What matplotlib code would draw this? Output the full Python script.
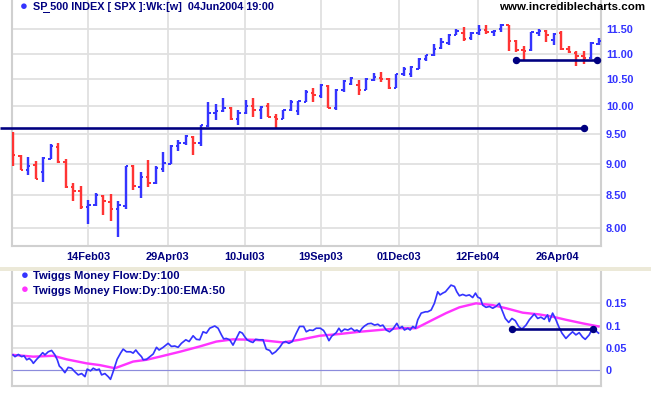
import matplotlib
matplotlib.use('Agg')
import matplotlib.pyplot as plt
import matplotlib.ticker as mticker
from matplotlib.lines import Line2D
from matplotlib.patches import Rectangle
import pandas as pd
import numpy as np

# ---------------- data ----------------
first_week = '2002-12-06'
n_weeks = 79

opens = [9.36, 9.13, 8.90, 8.98, 8.87, 9.08, 9.28, 9.02, 8.62, 8.57,
         8.31, 8.35, 8.49, 8.40, 8.29, 8.33, 8.96, 8.63, 8.79, 8.69,
         8.92, 9.00, 9.30, 9.35, 9.45, 9.34, 9.64, 9.87, 9.90, 9.97,
         9.76, 9.87, 9.99, 9.93, 9.99, 9.80, 9.76, 9.92, 9.91, 10.07,
         10.23, 10.19, 10.37, 9.97, 10.30, 10.40, 10.39, 10.30, 10.49, 10.52,
         10.50, 10.34, 10.59, 10.60, 10.69, 10.90, 10.97, 11.12, 11.21, 11.39,
         11.42, 11.32, 11.42, 11.49, 11.44, 11.50, 11.59, 11.25, 11.07, 11.07,
         11.42, 11.47, 11.27, 11.42, 11.09, 11.02, 10.96, 10.92, 11.20]
highs = [9.53, 9.14, 9.11, 9.04, 9.11, 9.33, 9.35, 9.07, 8.69, 8.64,
         8.42, 8.53, 8.50, 8.52, 8.41, 8.97, 8.98, 8.87, 9.06, 8.96,
         9.20, 9.32, 9.40, 9.49, 9.46, 9.66, 10.07, 10.04, 10.15, 9.98,
         9.93, 10.11, 10.15, 9.99, 10.06, 9.86, 9.93, 10.11, 10.09, 10.30,
         10.33, 10.41, 10.39, 10.31, 10.49, 10.54, 10.49, 10.52, 10.62, 10.64,
         10.52, 10.60, 10.74, 10.76, 10.91, 10.98, 11.20, 11.31, 11.40, 11.51,
         11.55, 11.44, 11.60, 11.58, 11.49, 11.62, 11.60, 11.27, 11.16, 11.44,
         11.51, 11.49, 11.42, 11.46, 11.15, 11.05, 11.06, 11.23, 11.31]
lows = [8.97, 8.89, 8.81, 8.75, 8.70, 9.08, 9.01, 8.61, 8.41, 8.28,
        8.06, 8.33, 8.19, 8.11, 7.88, 8.28, 8.58, 8.45, 8.63, 8.68,
        8.87, 9.00, 9.21, 9.31, 9.14, 9.29, 9.63, 9.74, 9.89, 9.75,
        9.66, 9.85, 9.80, 9.77, 9.80, 9.61, 9.76, 9.90, 9.84, 10.07,
        10.08, 10.15, 9.97, 9.92, 10.26, 10.38, 10.20, 10.29, 10.46, 10.44,
        10.32, 10.33, 10.57, 10.55, 10.69, 10.86, 10.96, 11.10, 11.18, 11.37,
        11.25, 11.27, 11.39, 11.40, 11.36, 11.44, 11.06, 11.03, 10.88, 11.06,
        11.36, 11.24, 11.17, 11.07, 11.01, 10.76, 10.79, 10.90, 11.17]
closes = [9.14, 8.90, 8.97, 8.76, 9.09, 9.29, 9.02, 8.62, 8.57, 8.31,
          8.35, 8.50, 8.41, 8.29, 8.34, 8.96, 8.64, 8.79, 8.69, 8.93,
          9.01, 9.30, 9.35, 9.46, 9.34, 9.65, 9.88, 9.90, 9.97, 9.76,
          9.87, 10.00, 9.93, 9.98, 9.80, 9.76, 9.92, 10.07, 10.09, 10.25,
          10.21, 10.38, 9.97, 10.30, 10.46, 10.52, 10.29, 10.50, 10.54, 10.50,
          10.34, 10.59, 10.69, 10.74, 10.89, 10.97, 11.10, 11.24, 11.39, 11.47,
          11.30, 11.43, 11.49, 11.44, 11.47, 11.60, 11.26, 11.07, 11.05, 11.44,
          11.47, 11.37, 11.41, 11.09, 11.03, 10.96, 10.91, 11.21, 11.25]

price_ticks = [8.00, 8.50, 9.00, 9.50, 10.00, 10.50, 11.00, 11.50]
date_ticks = ['2003-02-14', '2003-04-29', '2003-07-10', '2003-09-19',
              '2003-12-01', '2004-02-12', '2004-04-26']
date_tick_labels = ['14Feb03', '29Apr03', '10Jul03', '19Sep03',
                    '01Dec03', '12Feb04', '26Apr04']

# trend lines on price panel: (start, end, level)
long_line = ('2002-11-24', '2004-05-21', 9.61)
short_line = ('2004-03-19', '2004-06-02', 10.87)

# Twiggs Money Flow (day offsets from first_week)
tmf_days = [0, 1.8, 4.9, 8.0, 10.2, 12.7, 15.1, 17.3, 18.9, 22.0, 24.4, 27.6, 29.7, 32.8, 35.9,
            39.0, 41.2, 43.1, 45.2, 48.3, 51.4, 54.5, 57.6, 60.7, 63.9, 67.0, 69.1, 72.2, 74.7,
            77.8, 80.3, 82.5, 85.6, 88.7, 90.8, 92.7, 94.9, 97.0, 100.2, 102.6, 105.7, 109.5,
            111.9, 114.4, 116.6, 119.7, 121.3, 124.4, 127.5, 130.6, 133.7, 136.1, 139.9, 144.5,
            147.6, 150.7, 153.8, 156.9, 161.0, 164.1, 167.8, 170.9, 174.0, 177.1, 180.2, 183.3,
            188.0, 191.1, 194.2, 196.3, 198.8, 201.9, 205.0, 208.1, 211.2, 213.7, 215.9, 218.1,
            221.2, 223.6, 226.1, 229.2, 233.0, 236.0, 239.2, 241.6, 244.7, 248.5, 251.6, 254.0,
            257.1, 260.3, 264.0, 267.1, 270.8, 273.3, 276.4, 279.5, 282.6, 286.3, 289.4, 291.9,
            294.4, 297.0, 301.2, 303.7, 305.9, 309.0, 312.1, 315.2, 318.3, 320.5, 323.0, 325.4,
            327.6, 330.8, 333.8, 337.0, 340.0, 342.2, 344.7, 347.8, 350.9, 354.0, 357.7, 360.2,
            362.7, 364.8, 368.0, 370.1, 372.6, 375.1, 377.2, 380.4, 384.4, 386.5, 389.7, 392.7,
            395.8, 398.0, 400.5, 403.0, 405.1, 408.2, 411.4, 413.6, 416.0, 419.1, 422.2, 425.3,
            428.4, 431.0, 433.1, 435.6, 437.7, 440.8, 444.0, 447.1, 450.1, 453.2, 455.7, 458.8,
            462.0, 465.0, 468.1, 471.2, 474.3, 478.1, 481.2, 485.8, 489.0, 492.0, 495.1, 498.2,
            499.8, 502.9, 506.0, 508.5, 511.6, 515.3, 518.4, 521.5, 524.6, 527.7, 530.8, 533.3,
            537.0, 540.1, 542.6, 545.7]
tmf_values = [0.034, 0.030, 0.035, 0.030, 0.032, 0.023, 0.026, 0.021, 0.015, 0.024, 0.030, 0.039,
              0.034, 0.041, 0.044, 0.034, 0.023, 0.009, 0.004, -0.006, 0.006, 0.004, -0.004,
              -0.011, -0.008, -0.015, 0.002, -0.002, 0.004, 0.000, 0.002, -0.011, -0.008, -0.015,
              -0.021, -0.008, 0.008, 0.024, 0.038, 0.047, 0.041, 0.041, 0.038, 0.045, 0.038,
              0.030, 0.023, 0.024, 0.030, 0.036, 0.051, 0.045, 0.051, 0.060, 0.053, 0.054, 0.051,
              0.060, 0.068, 0.064, 0.077, 0.069, 0.068, 0.086, 0.083, 0.094, 0.099, 0.094, 0.079,
              0.070, 0.071, 0.068, 0.056, 0.071, 0.086, 0.083, 0.075, 0.068, 0.064, 0.062, 0.069,
              0.068, 0.068, 0.047, 0.044, 0.036, 0.041, 0.051, 0.062, 0.064, 0.060, 0.064, 0.083,
              0.098, 0.098, 0.086, 0.090, 0.089, 0.094, 0.094, 0.089, 0.079, 0.066, 0.076, 0.084,
              0.094, 0.086, 0.092, 0.090, 0.094, 0.088, 0.090, 0.086, 0.094, 0.099, 0.104, 0.105,
              0.101, 0.103, 0.099, 0.101, 0.090, 0.086, 0.092, 0.105, 0.094, 0.098, 0.090, 0.094,
              0.090, 0.098, 0.094, 0.113, 0.128, 0.131, 0.131, 0.135, 0.150, 0.176, 0.169, 0.173,
              0.176, 0.182, 0.191, 0.188, 0.176, 0.167, 0.170, 0.167, 0.169, 0.163, 0.173, 0.164,
              0.161, 0.146, 0.141, 0.143, 0.139, 0.143, 0.150, 0.135, 0.116, 0.107, 0.116, 0.111,
              0.098, 0.092, 0.101, 0.113, 0.126, 0.116, 0.119, 0.114, 0.124, 0.109, 0.128, 0.113,
              0.098, 0.083, 0.071, 0.079, 0.086, 0.079, 0.084, 0.074, 0.069, 0.079, 0.094, 0.089,
              0.083]
ema_days = [0, 18.9, 37.5, 49.9, 68.5, 80.9, 94.9, 99.5, 111.9, 124.4, 136.8, 155.4, 174.0,
            189.5, 205.0, 223.6, 236.0, 251.6, 267.1, 285.7, 304.3, 322.9, 341.5, 360.2, 375.7,
            391.2, 403.6, 416.0, 431.5, 447.1, 459.5, 475.0, 490.5, 502.9, 515.3, 530.8, 545.7]
ema_values = [0.034, 0.030, 0.032, 0.024, 0.015, 0.011, 0.004, 0.008, 0.019, 0.023, 0.030,
              0.041, 0.053, 0.064, 0.069, 0.068, 0.066, 0.062, 0.068, 0.077, 0.081, 0.086,
              0.090, 0.094, 0.094, 0.113, 0.128, 0.141, 0.150, 0.146, 0.139, 0.129, 0.125,
              0.120, 0.113, 0.105, 0.098]
tmf_ticks = [0, 0.05, 0.1, 0.15]
tmf_tick_labels = ['0', '0.05', '0.1', '0.15']
tmf_line = ('2004-03-15', '2004-05-30', 0.092)

# ---------------- styling ----------------
W, H = 651, 395
DPI = 100
FONT = 'Liberation Sans'
BLUE = '#3434ff'
RED = '#ff3434'
NAVY = '#000080'
GRID = '#e0e0e0'
SPINE = '#d0d0d0'
PX = 72.0 / DPI

plt.rcParams['font.family'] = [FONT, 'DejaVu Sans']

dates = pd.date_range(first_week, periods=n_weeks, freq='7D')
xlim = (pd.Timestamp('2002-12-05'), pd.Timestamp('2004-06-06'))

fig = plt.figure(figsize=(W / DPI, H / DPI), dpi=DPI, facecolor='white')

def fx(x):
    return x / W

def fy(y):
    return 1 - y / H

ax = fig.add_axes([fx(12), fy(246), fx(601) - fx(12), fy(0) - fy(246)])
ax2 = fig.add_axes([fx(12), fy(386), fx(601) - fx(12), fy(270) - fy(386)])

# separator band between panels
fig.patches.append(Rectangle((0, fy(270.5)), 1, fy(266.5) - fy(270.5), transform=fig.transFigure,
                             facecolor='#ece9d8', edgecolor='none', zorder=0))

tick_dates = pd.to_datetime(date_ticks)
LABEL_FS = 11 * PX

for a in (ax, ax2):
    a.set_xlim(xlim)
    a.set_facecolor('white')
    for s in ('left', 'right', 'bottom'):
        a.spines[s].set_color(SPINE)
        a.spines[s].set_linewidth(1.5)
    a.spines['top'].set_visible(False)
    a.set_xticks(tick_dates)
    a.xaxis.grid(True, color=GRID, linewidth=1.3)
    a.yaxis.grid(True, color=GRID, linewidth=1.3)
    a.set_axisbelow(True)
    a.tick_params(axis='both', length=0)
    a.yaxis.tick_right()

# ---- price panel ----
ax.set_yscale('log')
ax.set_ylim(7.746, 12.13)
ax.yaxis.set_major_locator(mticker.FixedLocator(price_ticks))
ax.yaxis.set_minor_locator(mticker.NullLocator())
ax.yaxis.set_major_formatter(mticker.FixedFormatter(['%.2f' % v for v in price_ticks]))
ax.tick_params(axis='y', pad=5 * PX, labelsize=LABEL_FS, labelcolor=BLUE)
for t in ax.get_yticklabels():
    t.set_fontweight('bold')
ax.set_xticklabels(date_tick_labels)
ax.tick_params(axis='x', pad=4.0, labelsize=LABEL_FS, labelcolor=NAVY)
for t in ax.get_xticklabels():
    t.set_fontweight('bold')

half = pd.Timedelta(days=2.2)
bar_lw = 2.4 * PX
tick_lw = 2.0 * PX
prev = None
for d, o, h, l, c in zip(dates, opens, highs, lows, closes):
    if prev is None:
        col = RED if c < o else BLUE
    else:
        col = BLUE if c > prev else RED
    prev = c
    ax.vlines(d, l, h, color=col, linewidth=bar_lw, zorder=3)
    ax.hlines(o, d - half, d, color=col, linewidth=tick_lw, zorder=3)
    ax.hlines(c, d, d + half, color=col, linewidth=tick_lw, zorder=3)

# trend lines
ax.plot([pd.Timestamp(long_line[0]), pd.Timestamp(long_line[1])], [long_line[2]] * 2,
        color=NAVY, linewidth=2.6 * PX, clip_on=False, zorder=4, solid_capstyle='butt')
ax.plot([pd.Timestamp(long_line[1])], [long_line[2]], 'o', color=NAVY, markersize=6 * PX, zorder=5)
ax.plot([pd.Timestamp(short_line[0]), pd.Timestamp(short_line[1])], [short_line[2]] * 2,
        color=NAVY, linewidth=2.6 * PX, zorder=4, marker='o', markersize=6 * PX)

# ---- TMF panel ----
ax2.set_ylim(-0.036, 0.225)
ax2.set_yticks(tmf_ticks)
ax2.set_yticklabels(tmf_tick_labels)
ax2.tick_params(axis='y', pad=5 * PX, labelsize=LABEL_FS, labelcolor=BLUE)
for t in ax2.get_yticklabels():
    t.set_fontweight('bold')
ax2.tick_params(axis='x', labelbottom=False)
ax2.axhline(0, color='#8c8cdc', linewidth=1.2 * PX, zorder=2)
for gl, v in zip(ax2.yaxis.get_gridlines(), tmf_ticks):
    if v == 0:
        gl.set_visible(False)

t0 = pd.Timestamp(first_week)
tmf_x = [t0 + pd.Timedelta(days=float(dd)) for dd in tmf_days]
ema_x = [t0 + pd.Timedelta(days=float(dd)) for dd in ema_days]
ax2.plot(ema_x, ema_values, color='#ff34ff', linewidth=2.4 * PX, zorder=3)
ax2.plot(tmf_x, tmf_values, color=BLUE, linewidth=1.7 * PX, zorder=4)
ax2.plot([pd.Timestamp(tmf_line[0]), pd.Timestamp(tmf_line[1])], [tmf_line[2]] * 2,
         color=NAVY, linewidth=2.6 * PX, zorder=5, marker='o', markersize=6 * PX)

# ---- texts ----
BULLET_FS = 13 * PX
fig.text(fx(24), fy(7), '\u25cf', color=BLUE, fontsize=BULLET_FS, ha='center', va='center')
fig.text(fx(33), fy(7.5), 'SP 500 INDEX [ SPX ]:Wk:[w]  04Jun2004 19:00', color=NAVY,
         fontsize=10.9 * PX, fontweight='bold', ha='left', va='center')
fig.lines.append(Line2D([fx(42.5), fx(49)], [fy(11.5), fy(11.5)], transform=fig.transFigure,
                        color=NAVY, linewidth=1 * PX))
fig.text(fx(645), fy(7.5), 'www.incrediblecharts.com', color='black', fontsize=11.5 * PX,
         fontweight='bold', ha='right', va='center')

fig.text(fx(25), fy(275.5), '\u25cf', color=BLUE, fontsize=BULLET_FS, ha='center', va='center')
fig.text(fx(33), fy(276), 'Twiggs Money Flow:Dy:100', color=NAVY, fontsize=11.3 * PX,
         fontweight='bold', ha='left', va='center')
fig.text(fx(25), fy(290), '\u25cf', color='#ff34ff', fontsize=BULLET_FS, ha='center', va='center')
fig.text(fx(33), fy(290.5), 'Twiggs Money Flow:Dy:100:EMA:50', color=NAVY, fontsize=11.3 * PX,
         fontweight='bold', ha='left', va='center')

fig.savefig('out.png', dpi=DPI, facecolor='white')
